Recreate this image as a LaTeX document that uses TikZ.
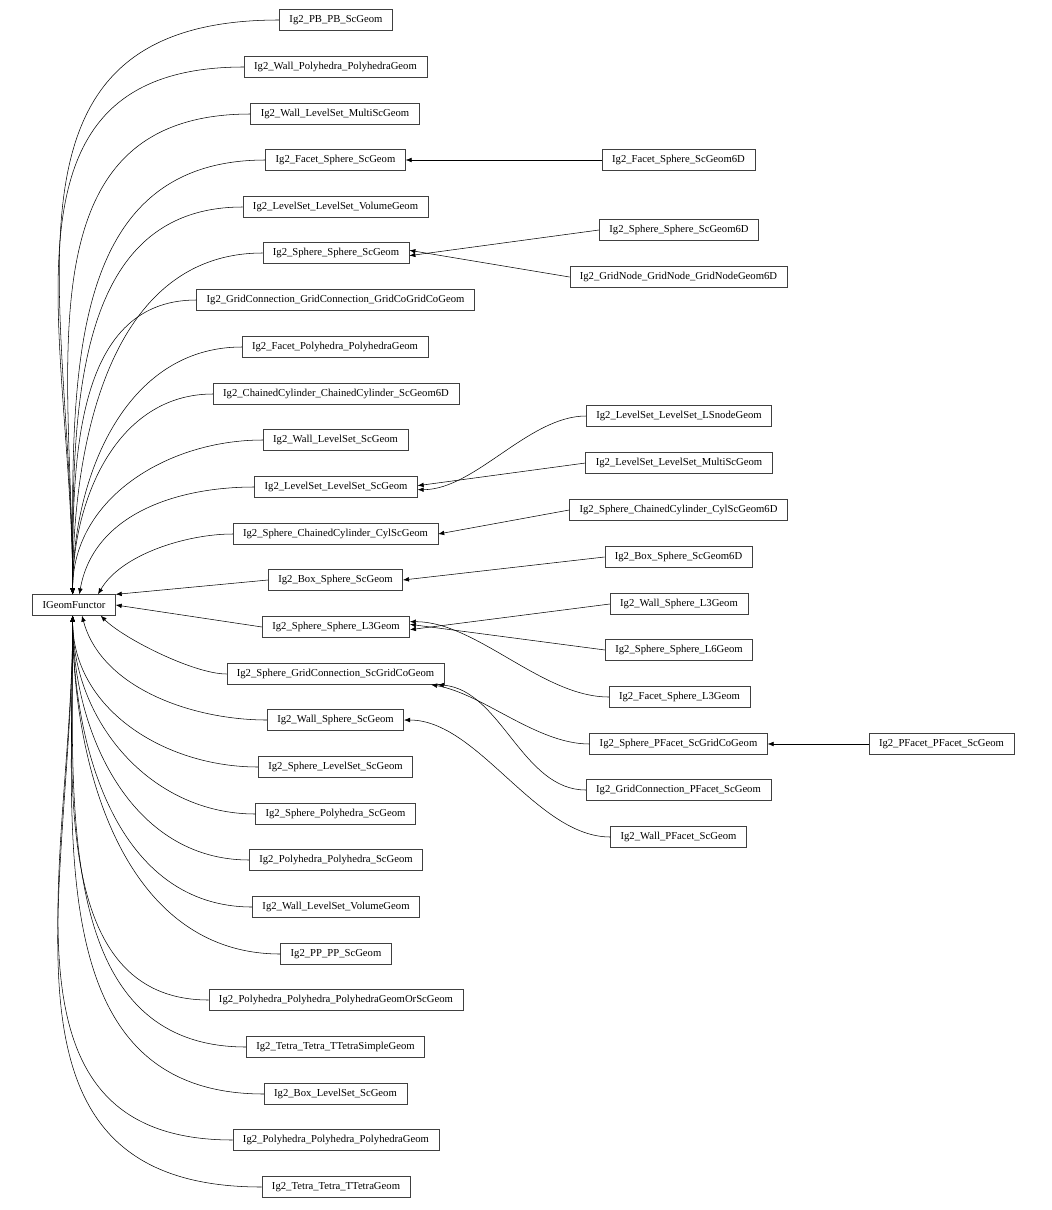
\documentclass[tikz,border=0pt]{standalone}
\usepackage{fontspec}
\setmainfont{Liberation Serif}
\usetikzlibrary{arrows.meta}
\begin{document}
\begin{tikzpicture}[x=0.75pt,y=-0.75pt,
 bx/.style={draw=black!75,line width=0.45pt,fill=white,font=\fontsize{8}{9}\selectfont,inner xsep=7.5pt,minimum height=15.5pt,inner ysep=0pt},
 ar/.style={draw=black,line width=0.4pt,-{Latex[length=4.5pt,width=3.5pt]}}]
\useasboundingbox (0,0) rectangle (1052,1210);
\node[bx] (g) at (74,605) {IGeomFunctor};
\foreach \n/\x/\y/\t in {
 a1/336/20/Ig2\_PB\_PB\_ScGeom,
 a2/335.5/67/Ig2\_Wall\_Polyhedra\_PolyhedraGeom,
 a3/335/114/Ig2\_Wall\_LevelSet\_MultiScGeom,
 a4/335.5/160/Ig2\_Facet\_Sphere\_ScGeom,
 a5/335.5/207/Ig2\_LevelSet\_LevelSet\_VolumeGeom,
 a6/336/253/Ig2\_Sphere\_Sphere\_ScGeom,
 a7/335.5/300/Ig2\_GridConnection\_GridConnection\_GridCoGridCoGeom,
 a8/335/347/Ig2\_Facet\_Polyhedra\_PolyhedraGeom,
 a9/336/394/Ig2\_ChainedCylinder\_ChainedCylinder\_ScGeom6D,
 a10/335.5/440/Ig2\_Wall\_LevelSet\_ScGeom,
 a11/336/487/Ig2\_LevelSet\_LevelSet\_ScGeom,
 a12/335.5/534/Ig2\_Sphere\_ChainedCylinder\_CylScGeom,
 a13/335.5/580/Ig2\_Box\_Sphere\_ScGeom,
 a14/336/627/Ig2\_Sphere\_Sphere\_L3Geom,
 a15/335.5/674/Ig2\_Sphere\_GridConnection\_ScGridCoGeom,
 a16/335.5/720/Ig2\_Wall\_Sphere\_ScGeom,
 a17/335.5/767/Ig2\_Sphere\_LevelSet\_ScGeom,
 a18/335.5/814/Ig2\_Sphere\_Polyhedra\_ScGeom,
 a19/336/860/Ig2\_Polyhedra\_Polyhedra\_ScGeom,
 a20/336/907/Ig2\_Wall\_LevelSet\_VolumeGeom,
 a21/336/954/Ig2\_PP\_PP\_ScGeom,
 a22/336/1000/Ig2\_Polyhedra\_Polyhedra\_PolyhedraGeomOrScGeom,
 a23/335.5/1047/Ig2\_Tetra\_Tetra\_TTetraSimpleGeom,
 a24/335.5/1094/Ig2\_Box\_LevelSet\_ScGeom,
 a25/336/1140/Ig2\_Polyhedra\_Polyhedra\_PolyhedraGeom,
 a26/336/1187/Ig2\_Tetra\_Tetra\_TTetraGeom,
 b1/678.5/160/Ig2\_Facet\_Sphere\_ScGeom6D,
 b2/679/230/Ig2\_Sphere\_Sphere\_ScGeom6D,
 b3/678.5/277/Ig2\_GridNode\_GridNode\_GridNodeGeom6D,
 b4/679/416/Ig2\_LevelSet\_LevelSet\_LSnodeGeom,
 b5/679/463/Ig2\_LevelSet\_LevelSet\_MultiScGeom,
 b6/678.5/510/Ig2\_Sphere\_ChainedCylinder\_CylScGeom6D,
 b7/678.5/557/Ig2\_Box\_Sphere\_ScGeom6D,
 b8/679/604/Ig2\_Wall\_Sphere\_L3Geom,
 b9/679/650/Ig2\_Sphere\_Sphere\_L6Geom,
 b10/679.5/697/Ig2\_Facet\_Sphere\_L3Geom,
 b11/678.5/744/Ig2\_Sphere\_PFacet\_ScGridCoGeom,
 b12/678.5/790/Ig2\_GridConnection\_PFacet\_ScGeom,
 b13/678.5/837/Ig2\_Wall\_PFacet\_ScGeom,
 c1/941.5/744/Ig2\_PFacet\_PFacet\_ScGeom}
 {\node[bx] (\n) at (\x,\y) {\t};}
\foreach \n/\l in {a1/1.25,a2/1.2,a3/1.15,a4/1.1,a5/1.05,a6/1,a7/1,a8/1,a9/1,a10/1}
 \draw[ar] (\n.west) to[out=180,in=90,looseness=\l] ([xshift=-1]g.north);
\draw[ar] (a11.west) to[out=180,in=80] ([xshift=4]g.north);
\draw[ar] (a12.west) to[out=180,in=60,looseness=0.8] ([xshift=18]g.north);
\draw[ar] (a13.west) -- (g.north east);
\draw[ar] (a14.west) -- (g.east);
\draw[ar] (a15.west) to[out=180,in=-45,looseness=0.6] ([xshift=20]g.south);
\draw[ar] (a16.west) to[out=180,in=-75,looseness=0.9] ([xshift=6]g.south);
\foreach \n/\l in {a17/1,a18/1,a19/1,a20/1,a21/1,a22/1,a23/1.05,a24/1.1,a25/1.15,a26/1.2}
 \draw[ar] (\n.west) to[out=180,in=-90,looseness=\l] ([xshift=-1]g.south);
\draw[ar] (b1.west) -- (a4.east);
\draw[ar] (b2.west) -- ([yshift=-2]a6.east);
\draw[ar] (b3.west) -- ([yshift=2]a6.east);
\draw[ar] (b4.west) to[out=180,in=0,looseness=0.8] ([yshift=-2]a11.east);
\draw[ar] (b5.west) -- ([yshift=1]a11.east);
\draw[ar] (b6.west) -- (a12.east);
\draw[ar] (b7.west) -- (a13.east);
\draw[ar] (b8.west) -- ([yshift=-2]a14.east);
\draw[ar] (b9.west) -- ([yshift=2]a14.east);
\draw[ar] (b10.west) to[out=180,in=0,looseness=0.8] ([yshift=4]a14.east);
\draw[ar] (b11.west) to[out=180,in=-10,looseness=0.8] ([xshift=-10]a15.south east);
\draw[ar] (b12.west) to[out=180,in=-5,looseness=0.9] ([xshift=-5]a15.south east);
\draw[ar] (b13.west) to[out=180,in=0,looseness=0.8] (a16.east);
\draw[ar] (c1.west) -- (b11.east);
\end{tikzpicture}
\end{document}
